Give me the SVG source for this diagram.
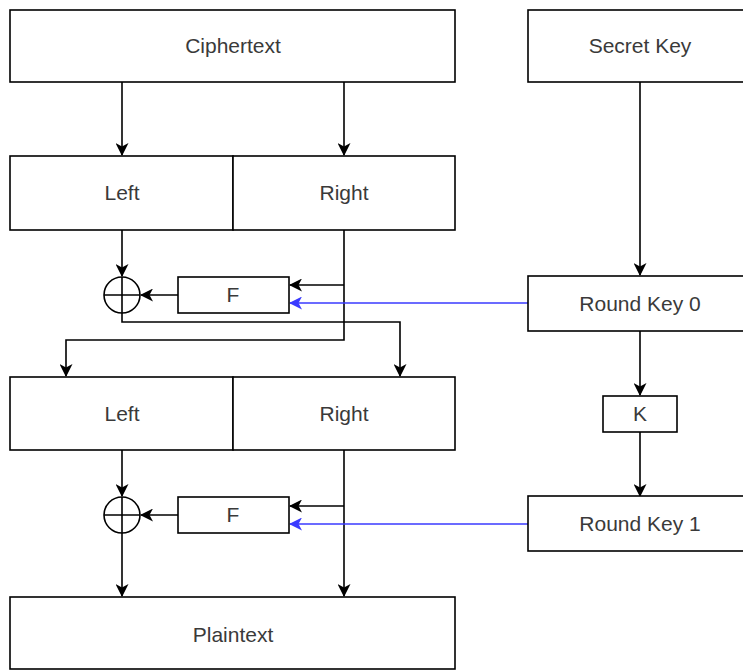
<svg xmlns="http://www.w3.org/2000/svg" width="743" height="670" viewBox="0 0 743 670">
  <style>
    .box { fill: #ffffff; stroke: #000000; stroke-width: 1.6; }
    .lbl { font-family: "Liberation Sans", Arial, sans-serif; font-size: 21px; fill: #3a3a3a; text-anchor: middle; }
    .wire { fill: none; stroke: #000000; stroke-width: 1.6; }
    .key { fill: none; stroke: #3a3aff; stroke-width: 1.6; }
  </style>
  <defs>
    <marker id="arrow" viewBox="0 0 13 13" refX="12" refY="6.5" markerWidth="13" markerHeight="13" markerUnits="userSpaceOnUse" orient="auto">
      <path d="M0,0 L13,6.5 L0,13 L3.5,6.5 Z" fill="#000000"/>
    </marker>
    <marker id="arrowBlue" viewBox="0 0 13 13" refX="12" refY="6.5" markerWidth="13" markerHeight="13" markerUnits="userSpaceOnUse" orient="auto">
      <path d="M0,0 L13,6.5 L0,13 L3.5,6.5 Z" fill="#3a3aff"/>
    </marker>
  </defs>
  <rect width="743" height="670" fill="#ffffff"/>

  <!-- connectors -->
  <g id="connectors">
    <path class="wire" d="M122,82 V155" marker-end="url(#arrow)"/>
    <path class="wire" d="M344,82 V155" marker-end="url(#arrow)"/>
    <path class="wire" d="M640,82 V275" marker-end="url(#arrow)"/>
    <path class="wire" d="M640,331 V395" marker-end="url(#arrow)"/>
    <path class="wire" d="M640,432 V496" marker-end="url(#arrow)"/>

    <!-- round 1 -->
    <path class="wire" d="M122,230 V276" marker-end="url(#arrow)"/>
    <path class="wire" d="M344,230 V340 H66 V376" marker-end="url(#arrow)"/>
    <path class="wire" d="M344,285 H290" marker-end="url(#arrow)"/>
    <path class="wire" d="M178,295 H141" marker-end="url(#arrow)"/>
    <path class="wire" d="M122,313 V322 H400 V376" marker-end="url(#arrow)"/>
    <path class="key" d="M528,303 H290" marker-end="url(#arrowBlue)"/>

    <!-- round 2 -->
    <path class="wire" d="M122,450 V496" marker-end="url(#arrow)"/>
    <path class="wire" d="M344,450 V596" marker-end="url(#arrow)"/>
    <path class="wire" d="M344,506 H290" marker-end="url(#arrow)"/>
    <path class="wire" d="M178,515 H141" marker-end="url(#arrow)"/>
    <path class="wire" d="M122,533 V596" marker-end="url(#arrow)"/>
    <path class="key" d="M528,524 H290" marker-end="url(#arrowBlue)"/>
  </g>

  <g id="ciphertext">
    <rect class="box" x="10" y="10" width="445" height="72"/>
    <text class="lbl" x="233" y="53">Ciphertext</text>
  </g>
  <g id="secret-key">
    <rect class="box" x="528" y="10" width="230" height="72"/>
    <text class="lbl" x="640" y="53">Secret Key</text>
  </g>

  <g id="left-0">
    <rect class="box" x="10" y="156" width="223" height="74"/>
    <text class="lbl" x="122" y="200">Left</text>
  </g>
  <g id="right-0">
    <rect class="box" x="233" y="156" width="222" height="74"/>
    <text class="lbl" x="344" y="200">Right</text>
  </g>

  <g id="xor-0">
    <circle class="box" cx="122" cy="295" r="18"/>
    <path class="wire" d="M104,295 H140 M122,277 V313"/>
  </g>
  <g id="f-0">
    <rect class="box" x="178" y="277" width="111" height="36"/>
    <text class="lbl" x="233" y="302">F</text>
  </g>
  <g id="round-key-0">
    <rect class="box" x="528" y="276" width="230" height="55"/>
    <text class="lbl" x="640" y="311">Round Key 0</text>
  </g>

  <g id="k">
    <rect class="box" x="603" y="396" width="74" height="36"/>
    <text class="lbl" x="640" y="421">K</text>
  </g>

  <g id="left-1">
    <rect class="box" x="10" y="377" width="223" height="73"/>
    <text class="lbl" x="122" y="421">Left</text>
  </g>
  <g id="right-1">
    <rect class="box" x="233" y="377" width="222" height="73"/>
    <text class="lbl" x="344" y="421">Right</text>
  </g>

  <g id="xor-1">
    <circle class="box" cx="122" cy="515" r="18"/>
    <path class="wire" d="M104,515 H140 M122,497 V533"/>
  </g>
  <g id="f-1">
    <rect class="box" x="178" y="497" width="111" height="36"/>
    <text class="lbl" x="233" y="522">F</text>
  </g>
  <g id="round-key-1">
    <rect class="box" x="528" y="496" width="230" height="55"/>
    <text class="lbl" x="640" y="531">Round Key 1</text>
  </g>

  <g id="plaintext">
    <rect class="box" x="10" y="597" width="445" height="72"/>
    <text class="lbl" x="233" y="642">Plaintext</text>
  </g>
</svg>
